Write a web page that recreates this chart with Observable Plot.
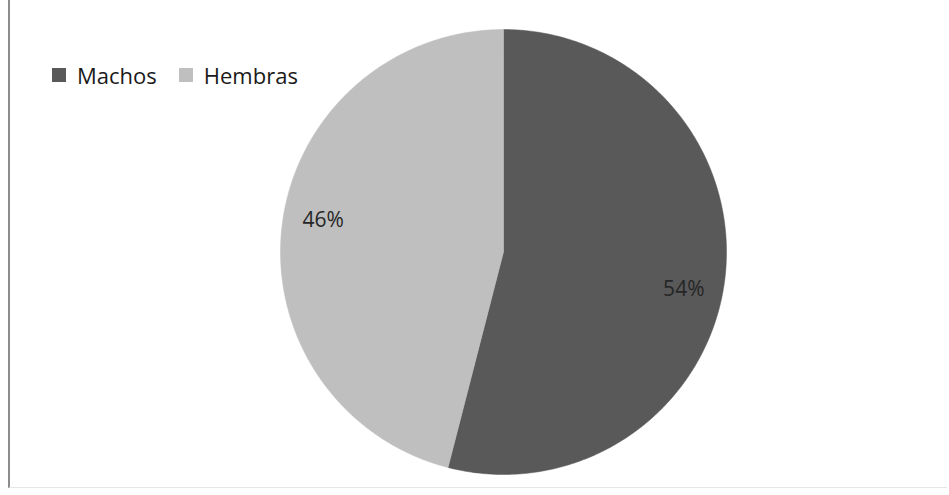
<!DOCTYPE html>
<html>
<head>
<meta charset="utf-8">
<script src="https://cdn.jsdelivr.net/npm/d3@7"></script>
<script src="https://cdn.jsdelivr.net/npm/@observablehq/plot@0.6"></script>
<style>
  body { margin: 0; background: #fff; width: 949px; height: 495px; overflow: hidden; position: relative; font-family: "Open Sans", sans-serif; }
  #frame { position: absolute; left: 8px; top: 0; width: 939px; height: 488px; border-left: 2px solid #8c8c8c; border-bottom: 1px solid #e6e6e6; box-sizing: border-box; }
  #chart { position: absolute; left: 0; top: 0; }
  #legend { position: absolute; left: 52px; top: 58px; }
</style>
</head>
<body>
<div id="frame"></div>
<div id="chart"></div>
<div id="legend"></div>
<script>
const categories = ["Machos", "Hembras"];
const values = [54, 46];
const labels = ["54%", "46%"];
const colors = ["#595959", "#bfbfbf"];

// pie geometry derived from the values (clockwise from 12 o'clock)
const total = d3.sum(values);
const pts = [];
const lbl = [];
let start = 0;
categories.forEach((c, i) => {
  const a0 = start / total * 2 * Math.PI;
  const a1 = (start + values[i]) / total * 2 * Math.PI;
  pts.push({cat: c, x: 0, y: 0});
  const n = Math.max(2, Math.ceil((a1 - a0) / (Math.PI / 360)));
  for (let k = 0; k <= n; k++) {
    const a = a0 + (a1 - a0) * k / n;
    pts.push({cat: c, x: Math.sin(a), y: Math.cos(a)});
  }
  pts.push({cat: c, x: 0, y: 0});
  const am = (a0 + a1) / 2;
  lbl.push({cat: c, text: labels[i], x: 0.815 * Math.sin(am), y: 0.81 * Math.cos(am) + (i === 0 ? -0.068 : 0.04)});
  start += values[i];
});

const chart = Plot.plot({
  width: 949,
  height: 495,
  marginLeft: 280,
  marginRight: 223,
  marginTop: 29,
  marginBottom: 21,
  x: {domain: [-1, 1], axis: null},
  y: {domain: [-1, 1], axis: null},
  color: {domain: categories, range: colors},
  style: {background: "transparent", fontFamily: "Open Sans, sans-serif"},
  marks: [
    Plot.line(pts, {x: "x", y: "y", z: "cat", fill: "cat", stroke: "cat", strokeWidth: 0.5, curve: "linear"}),
    Plot.text(lbl, {x: "x", y: "y", text: "text", fontSize: 21, fill: "#262626"})
  ]
});
document.getElementById("chart").appendChild(chart);

const legend = Plot.legend({
  color: {domain: categories, range: colors},
  legend: "swatches",
  swatchSize: 14,
  style: {fontSize: "22px", fontFamily: "Open Sans, sans-serif", color: "#1a1a1a"}
});
document.getElementById("legend").appendChild(legend);
</script>
</body>
</html>
